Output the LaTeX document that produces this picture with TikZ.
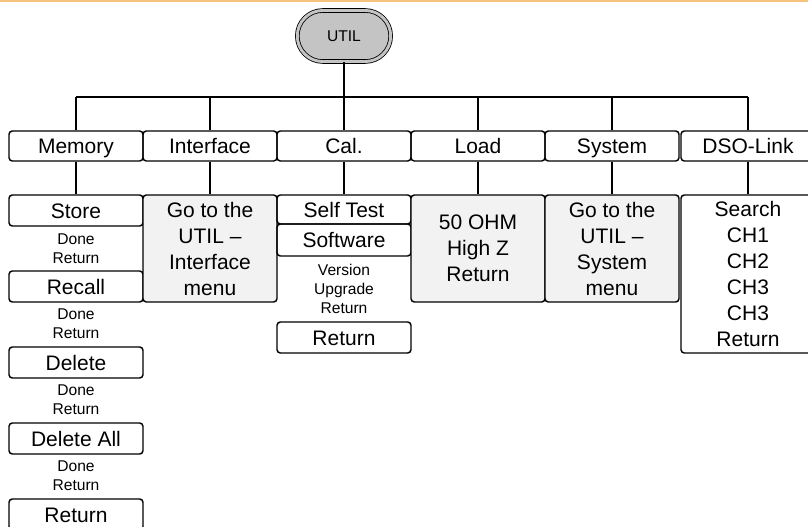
\documentclass[tikz,border=0pt]{standalone}
\usepackage{fontspec}
\setmainfont{Liberation Sans}
\usepackage{tikz}
\definecolor{utilgray}{HTML}{C4C4C4}
\definecolor{panelgray}{HTML}{F2F2F2}
\definecolor{rulecolor}{HTML}{F6C27E}
\tikzset{
    boxbase/.style={draw, line width=1.1pt, rounded corners=2.5pt, minimum width=100.5pt,
        inner sep=0pt, font=\fontsize{15.75}{19.5}\selectfont},
    menubox/.style={boxbase, minimum height=22.5pt, text height=11.3pt, text depth=0pt},
    listbox/.style={boxbase, align=center},
    panel/.style={listbox, fill=panelgray, minimum height=80.25pt},
    subtext/.style={inner sep=0pt, align=center, font=\fontsize{11.7}{14.25}\selectfont},
    wire/.style={line width=1.1pt},
}

\begin{document}
\begin{tikzpicture}[x=0.75pt, y=-0.75pt]
        \useasboundingbox (0,0) rectangle (808,526);
        \clip (0,0) rectangle (808,526);
        \draw[rulecolor, line width=1.5pt] (0,0.8) -- (808,0.8);
        \node[draw, line width=0.6pt, double=utilgray, double distance=2.2pt, fill=utilgray,
            rounded corners=19pt, minimum width=70pt, minimum height=38.25pt,
            font=\fontsize{11.7}{14.25}\selectfont, text height=8.4pt, text depth=0pt] (util) at (344,36) {UTIL};
        \node[menubox] (memory) at (76,146) {Memory};
        \node[menubox] (interface) at (210,146) {Interface};
        \node[menubox] (cal) at (344,146) {Cal.};
        \node[menubox] (load) at (478,146) {Load};
        \node[menubox] (system) at (612,146) {System};
        \node[menubox] (dsolink) at (748,146) {DSO-Link};
        \node[menubox, minimum height=23.25pt] (store) at (76,210.5) {Store};
        \node[subtext] (storesub) at (76,248.5) {Done\\Return};
        \node[menubox, minimum height=23.25pt] (recall) at (76,286.5) {Recall};
        \node[subtext] (recallsub) at (76,324) {Done\\Return};
        \node[menubox, minimum height=23.25pt] (delete) at (76,362.5) {Delete};
        \node[subtext] (deletesub) at (76,400) {Done\\Return};
        \node[menubox, minimum height=23.25pt] (deleteall) at (76,438.5) {Delete All};
        \node[subtext] (deleteallsub) at (76,476) {Done\\Return};
        \node[menubox, minimum height=23.25pt] (memreturn) at (76,514.5) {Return};
        \node[panel] (ifpanel) at (210,248.5) {Go to the\\UTIL --\\Interface\\menu};
        \node[menubox, minimum height=21.75pt] (selftest) at (344,209.5) {Self Test};
        \node[menubox, minimum height=24pt] (software) at (344,240) {Software};
        \node[subtext] (softsub) at (344,288.5) {Version\\Upgrade\\Return};
        \node[menubox, minimum height=23.25pt] (calreturn) at (344,337.5) {Return};
        \node[panel] (loadpanel) at (478,248.5) {50 OHM\\High Z\\Return};
        \node[panel] (syspanel) at (612,248.5) {Go to the\\UTIL --\\System\\menu};
        \node[listbox, minimum height=118.5pt] (dsolist) at (748,274)
            {Search\\CH1\\CH2\\CH3\\CH3\\Return};
        \coordinate (bus) at (344,97);
        \draw[wire] (util) -- (bus);
        \draw[wire] (memory.north |- bus) -- (dsolink.north |- bus);
        \foreach \n/\m in {memory/store, interface/ifpanel, cal/selftest, load/loadpanel,
            system/syspanel, dsolink/dsolist} {
            \draw[wire] (\n.north) -- (\n.north |- bus);
            \draw[wire] (\n) -- (\m);
        }
\end{tikzpicture}
\end{document}
